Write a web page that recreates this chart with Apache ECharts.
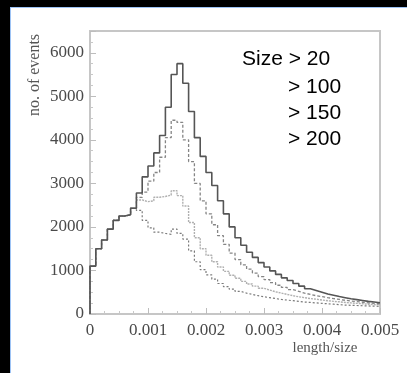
<!DOCTYPE html>
<html>
<head>
<meta charset="utf-8">
<script src="https://cdn.jsdelivr.net/npm/echarts@6/dist/echarts.min.js"></script>
<style>
  html, body { margin: 0; padding: 0; background: #000; width: 407px; height: 373px; overflow: hidden; }
  #panel { position: absolute; left: 10px; top: 7px; width: 396px; height: 365px; border-left: 1px solid #9dc3f5; border-top: 1px solid #9dc3f5; background: #fff; }
  #chart { width: 396px; height: 365px; }
</style>
</head>
<body>
<div id="panel"><div id="chart"></div></div>
<script>
// histogram bins of width 0.0001 in length/size, from 0 to 0.005
const binWidth = 0.0001;
const xTicks = ['0', '0.001', '0.002', '0.003', '0.004', '0.005'];
const yTicks = [0, 1000, 2000, 3000, 4000, 5000, 6000];
const seriesNames = ['Size > 20', '> 100', '> 150', '> 200'];

const size20 = [1100, 1500, 1700, 1950, 2150, 2250, 2280, 2430, 2780, 3150,
  3400, 3700, 4100, 4750, 5500, 5750, 5300, 4650, 4050, 3620,
  3250, 2950, 2600, 2300, 2000, 1750, 1580, 1420, 1300, 1180,
  1080, 990, 910, 830, 770, 700, 640, 580, 540, 500,
  460, 430, 400, 375, 350, 330, 310, 290, 275, 260];
const size100 = [1100, 1500, 1700, 1950, 2150, 2250, 2280, 2430, 2680, 2800,
  3050, 3250, 3600, 4050, 4450, 4400, 4000, 3500, 3000, 2600,
  2300, 2050, 1800, 1600, 1400, 1250, 1130, 1030, 940, 860,
  790, 720, 660, 610, 560, 520, 480, 450, 420, 400,
  375, 355, 335, 315, 300, 285, 270, 255, 245, 235];
const size150 = [1100, 1500, 1700, 1950, 2150, 2250, 2280, 2430, 2620, 2580,
  2600, 2680, 2700, 2730, 2830, 2720, 2480, 2100, 1750, 1500,
  1350, 1200, 1080, 980, 890, 820, 750, 690, 640, 590,
  550, 510, 480, 450, 420, 395, 375, 355, 340, 320,
  305, 290, 280, 265, 255, 245, 235, 225, 215, 210];
const size200 = [1100, 1500, 1700, 1950, 2150, 2250, 2280, 2430, 2380, 2150,
  1980, 1880, 1850, 1830, 1950, 1850, 1720, 1450, 1200, 1020,
  900, 800, 700, 630, 570, 520, 480, 450, 420, 395,
  375, 355, 335, 320, 305, 290, 275, 265, 255, 245,
  235, 225, 215, 205, 200, 195, 190, 185, 180, 175];

function toSteps(values) {
  const pts = [[0, 0]];
  values.forEach((v, i) => pts.push([+(i * binWidth).toFixed(4), v]));
  pts.push([+(values.length * binWidth).toFixed(4), values[values.length - 1]]);
  return pts;
}

const lineStyles = [
  { color: '#555555', width: 1.6, type: 'solid' },
  { color: '#858585', width: 1.3, type: [3, 2] },
  { color: '#b0b0b0', width: 1.4, type: [2, 1] },
  { color: '#7a7a7a', width: 1.2, type: [2, 2] }
];
const allData = [size20, size100, size150, size200];

const serif = 'Liberation Serif';
const chart = echarts.init(document.getElementById('chart'));
chart.setOption({
  animation: false,
  backgroundColor: '#fff',
  grid: { left: 79, top: 23, right: 27, bottom: 59, show: true, borderColor: '#c6c6c6', borderWidth: 2, containLabel: false },
  legend: [
    { data: [seriesNames[0]], left: 221, top: 36, orient: 'vertical', icon: 'none', itemWidth: 0, itemHeight: 21,
      textStyle: { fontFamily: 'Liberation Sans', fontSize: 21, color: '#000' }, selectedMode: false },
    { data: seriesNames.slice(1), left: 267, top: 64, orient: 'vertical', icon: 'none', itemWidth: 0, itemHeight: 21, itemGap: 5,
      textStyle: { fontFamily: 'Liberation Sans', fontSize: 21, color: '#000' }, selectedMode: false }
  ],
  xAxis: {
    type: 'value', min: 0, max: 0.005, interval: 0.001,
    axisLine: { show: false },
    axisTick: { show: true, inside: true, length: 6, lineStyle: { color: '#bdbdbd' } },
    minorTick: { show: true, splitNumber: 4, length: 3, lineStyle: { color: '#c8c8c8' } },
    splitLine: { show: false },
    axisLabel: { margin: 8, color: '#4a4a4a', fontFamily: serif, fontSize: 17,
      formatter: v => xTicks[Math.round(v / 0.001)] || '' }
  },
  yAxis: {
    type: 'value', min: 0, max: 6500, interval: 1000,
    axisLine: { show: false },
    axisTick: { show: true, inside: true, length: 6, lineStyle: { color: '#bdbdbd' } },
    minorTick: { show: true, splitNumber: 4, length: 3, lineStyle: { color: '#c8c8c8' } },
    splitLine: { show: false },
    axisLabel: { margin: 6, color: '#4a4a4a', fontFamily: serif, fontSize: 17, showMaxLabel: true,
      formatter: v => (yTicks.indexOf(v) >= 0 ? String(v) : '') }
  },
  graphic: [
    { type: 'text', x: 24, y: 67, rotation: Math.PI / 2, style: { text: 'no. of events', fontFamily: serif, fontSize: 16, fill: '#555', align: 'center', verticalAlign: 'middle' } },
    { type: 'text', x: 314, y: 340, style: { text: 'length/size', fontFamily: serif, fontSize: 15, fill: '#555', align: 'center', verticalAlign: 'middle' } }
  ],
  series: allData.map((d, i) => ({
    name: seriesNames[i], type: 'line', step: 'end', symbol: 'none',
    data: toSteps(d), lineStyle: lineStyles[i], itemStyle: { color: lineStyles[i].color }, z: 4 - i
  }))
});
</script>
</body>
</html>
